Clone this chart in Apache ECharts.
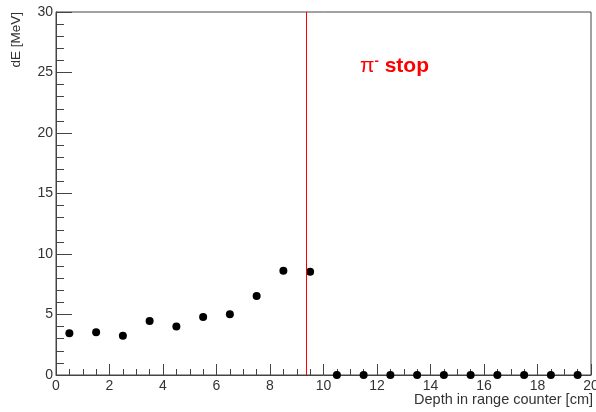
<!DOCTYPE html>
<html>
<head>
<meta charset="utf-8">
<script src="https://cdn.jsdelivr.net/npm/echarts@6/dist/echarts.min.js"></script>
<style>html,body{margin:0;padding:0;background:#fff;}#c{width:596px;height:412px;}</style>
</head>
<body>
<div id="c"></div>
<script>
const depth = [0.5,1.5,2.5,3.5,4.5,5.5,6.5,7.5,8.5,9.5,10.5,11.5,12.5,13.5,14.5,15.5,16.5,17.5,18.5,19.5];
const dE = [3.45,3.53,3.25,4.46,4.0,4.79,5.02,6.53,8.62,8.54,0,0,0,0,0,0,0,0,0,0];
const stopDepth = 9.37;
const xTitle = 'Depth in range counter [cm]';
const yTitle = 'dE [MeV]';

const chart = echarts.init(document.getElementById('c'), null, {renderer:'canvas'});
const font = 'Liberation Sans, Arial, Helvetica, sans-serif';
const axisCol = '#444';
chart.setOption({
  animation:false,
  backgroundColor:'#fff',
  grid:{left:56,right:5,top:12,bottom:37,containLabel:false,outerBoundsMode:'none',show:true,borderColor:axisCol,borderWidth:1,backgroundColor:'transparent'},
  xAxis:{type:'value',min:0,max:20,interval:2,
    axisLine:{show:true,onZero:false,lineStyle:{color:axisCol,width:1}},
    axisTick:{show:true,inside:true,length:11,lineStyle:{color:axisCol}},
    minorTick:{show:true,splitNumber:4,length:6,lineStyle:{color:axisCol}},
    splitLine:{show:false},
    axisLabel:{color:'#333',fontSize:14,fontFamily:font,margin:4,showMaxLabel:true,showMinLabel:true}
  },
  yAxis:{type:'value',min:0,max:30,interval:5,
    axisLine:{show:true,lineStyle:{color:axisCol,width:1}},
    axisTick:{show:true,inside:true,length:16,lineStyle:{color:axisCol}},
    minorTick:{show:true,splitNumber:5,length:8,lineStyle:{color:axisCol}},
    splitLine:{show:false},
    axisLabel:{color:'#333',fontSize:14,fontFamily:font,margin:3}
  },
  graphic:[
    {type:'text',x:16,y:12,rotation:Math.PI/2,style:{text:yTitle,align:'right',verticalAlign:'middle',fill:'#333',font:'13.5px '+font}},
    {type:'text',x:593,y:400,style:{text:xTitle,align:'right',verticalAlign:'middle',fill:'#333',font:'14.5px '+font}},
    {type:'text',x:360,y:66,style:{
      text:'{pi|π}{sup|-}{b| stop}',verticalAlign:'middle',
      rich:{
        pi:{fill:'#ff0000',fontSize:21,fontFamily:font},
        sup:{fill:'#ff0000',fontSize:13,fontFamily:font,fontWeight:'bold',verticalAlign:'top',padding:[0,0,10,0]},
        b:{fill:'#ff0000',fontSize:21,fontFamily:font,fontWeight:'bold'}
      }}}
  ],
  series:[{
    type:'scatter',
    data:depth.map((d,i)=>[d,dE[i]]),
    symbol:'circle',symbolSize:8,
    itemStyle:{color:'#000',opacity:1},
    markLine:{silent:true,symbol:['none','none'],label:{show:false},
      lineStyle:{color:'#ff0000',width:1,type:'solid'},
      data:[{xAxis:stopDepth}]}
  }]
});
</script>
</body>
</html>
